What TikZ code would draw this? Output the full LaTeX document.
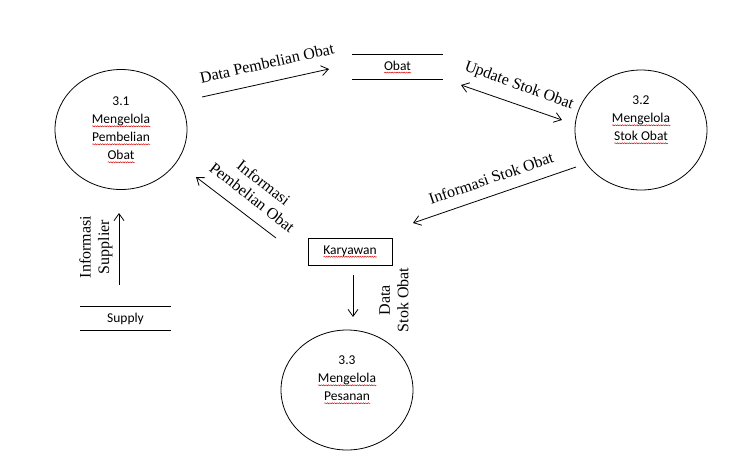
\documentclass[tikz,border=0pt]{standalone}
\usepackage{fontspec}
\setmainfont{Liberation Serif}
\newfontfamily\carl{Carlito}
\usetikzlibrary{shapes.geometric,arrows.meta,decorations.pathmorphing}
\newlength\spw
\newcommand\spell[1]{\settowidth\spw{#1}\makebox[0pt][l]{\tikz[baseline=0pt]\draw[red!85!black, line width=0.45pt, decorate, decoration={snake, amplitude=0.55pt, segment length=2.4pt}] (0pt,-2.6pt) -- (\spw,-2.6pt);}#1}
\begin{document}
\begin{tikzpicture}[x=1pt,y=1pt,
  process/.style={ellipse, draw, line width=0.8pt, minimum width=132pt, minimum height=120pt, inner sep=0pt},
  proctext/.style={font=\carl\fontsize{13.5}{18}\selectfont, align=center, inner sep=0pt},
  storebox/.style={font=\carl\fontsize{13.5}{18}\selectfont, minimum width=91pt, minimum height=24pt, inner sep=0pt},
  entitybox/.style={draw, line width=0.8pt, font=\carl\fontsize{13.5}{18}\selectfont, minimum width=84pt, minimum height=27pt, inner sep=0pt},
  flowlabel/.style={font=\fontsize{16}{18.5}\selectfont, align=center, inner sep=0pt},
  flow/.style={-{Straight Barb[length=7pt,width=10pt]}, line width=0.8pt},
  bothflow/.style={{Straight Barb[length=7pt,width=10pt]}-{Straight Barb[length=7pt,width=10pt]}, line width=0.8pt},
  storeline/.style={line width=0.8pt}]
\fill[white] (0,0) rectangle (751,-464);
\useasboundingbox (0,0) rectangle (751,-464);

% processes
\node[process] (p1) at (121,-129.5) {};
\node[proctext] (t1) at (121,-130) {3.1\\\spell{Mengelola}\\\spell{Pembelian}\\\spell{Obat}};
\node[process] (p2) at (641,-130) {};
\node[proctext] (t2) at (641,-120) {3.2\\\spell{Mengelola}\\\spell{Stok Obat}};
\node[process] (p3) at (347,-390) {};
\node[proctext] (t3) at (347,-380) {3.3\\\spell{Mengelola}\\\spell{Pesanan}};

% stores
\node[storebox] (obat) at (397.5,-67) {\spell{Obat}};
\draw[storeline] (obat.north west) -- (obat.north east);
\draw[storeline] (obat.south west) -- (obat.south east);
\node[storebox] (supply) at (125.5,-318.5) {Supply};
\draw[storeline] (supply.north west) -- (supply.north east);
\draw[storeline] (supply.south west) -- (supply.south east);

% entity
\node[entitybox] (kary) at (350,-251.5) {\spell{Karyawan}};

% flow end points
\coordinate (a1s) at (202,-97);  \coordinate (a1e) at (329,-69);
\coordinate (a2s) at (461,-85);  \coordinate (a2e) at (562,-120);
\coordinate (a3s) at (576,-167); \coordinate (a3e) at (413,-223);
\coordinate (a4s) at (276,-238); \coordinate (a4e) at (196,-177);
\coordinate (a5s) at (119,-285); \coordinate (a5e) at (119,-213);
\coordinate (a6s) at (353,-275); \coordinate (a6e) at (353,-317);

\draw[flow] (a1s) -- (a1e);
\draw[bothflow] (a2s) -- (a2e);
\draw[flow] (a3s) -- (a3e);
\draw[flow] (a4s) -- (a4e);
\draw[flow] (a5s) -- (a5e);
\draw[flow] (a6s) -- (a6e);

% labels
\node[flowlabel, rotate=12.5] (l1) at (267,-63) {Data Pembelian Obat};
\node[flowlabel, rotate=-20] (l2) at (519,-86) {Update Stok Obat};
\node[flowlabel, rotate=19] (l3) at (491,-178) {Informasi Stok Obat};
\node[flowlabel, rotate=-38] (l4) at (258,-190) {Informasi\\Pembelian Obat};
\node[flowlabel, rotate=90] (l5) at (96,-247) {Informasi\\Supplier};
\node[flowlabel, rotate=90] (l6) at (394,-300) {Data\\Stok Obat};
\end{tikzpicture}
\end{document}
